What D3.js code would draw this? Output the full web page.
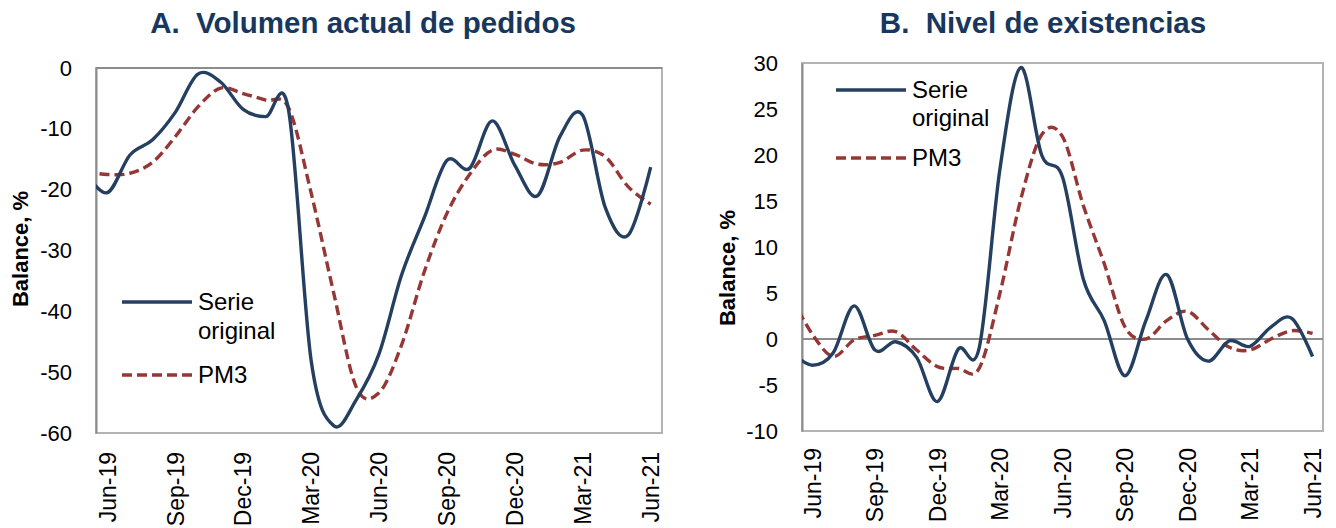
<!DOCTYPE html>
<html>
<head>
<meta charset="utf-8">
<script src="https://cdn.jsdelivr.net/npm/d3@7"></script>
<style>
  body { margin: 0; background: #fff; }
  svg { display: block; font-family: "Liberation Sans", Arial, sans-serif; }
</style>
</head>
<body>
<div id="chart"></div>
<script>
// monthly data, May-19 .. Jun-21 (May-19 sits just outside the plot, clipped)
const months = ['May-19', 'Jun-19', 'Jul-19', 'Aug-19', 'Sep-19', 'Oct-19', 'Nov-19', 'Dec-19',
    'Jan-20', 'Feb-20', 'Mar-20', 'Apr-20', 'May-20', 'Jun-20', 'Jul-20', 'Aug-20', 'Sep-20',
    'Oct-20', 'Nov-20', 'Dec-20', 'Jan-21', 'Feb-21', 'Mar-21', 'Apr-21', 'May-21', 'Jun-21'];
const tickMonths = ['Jun-19', 'Sep-19', 'Dec-19', 'Mar-20', 'Jun-20', 'Sep-20', 'Dec-20', 'Mar-21', 'Jun-21'];

const pedidosSerie = [-17.0, -20.5, -14.3, -11.8, -7.3, -1.0, -2.3, -6.8, -8.0, -6.8, -48.0, -58.8, -54.5,
    -47.0, -34.0, -24.6, -15.2, -16.5, -8.7, -16.0, -21.0, -11.2, -7.8, -23.0, -27.5, -16.3];
const pedidosPM3 = [-17.0, -17.5, -17.3, -15.5, -11.3, -6.4, -3.3, -4.2, -5.3, -6.5, -20.5, -37.0, -52.5,
    -53.4, -45.5, -33.5, -23.9, -17.5, -13.5, -14.2, -15.8, -15.5, -13.5, -14.6, -19.5, -22.4];

const existSerie = [-1.5, -2.85, -1.5, 3.6, -1.2, -0.3, -2.0, -6.8, -1.1, -1.0, 18.5, 29.5, 20.0,
    17.6, 6.5, 2.0, -4.0, 2.0, 7.0, 0.0, -2.4, -0.2, -0.8, 1.3, 2.25, -1.9];
const existPM3 = [4.5, 0.5, -1.9, -0.1, 0.4, 0.8, -1.2, -3.0, -3.2, -3.2, 5.0, 15.2, 22.2,
    22.0, 14.5, 8.2, 1.3, 0.0, 2.0, 3.0, 1.0, -0.9, -1.2, 0.0, 0.9, 0.6];

const ticksA = [0, -10, -20, -30, -40, -50, -60];
const ticksB = [30, 25, 20, 15, 10, 5, 0, -5, -10];

const navy = '#243f60';
const red = '#953735';

const svg = d3.select('#chart')
    .append('svg')
    .attr('width', 1336)
    .attr('height', 528);

svg.append('rect').attr('width', 1336).attr('height', 528).attr('fill', '#fff');

const drawPanel = (p) => {
    const g = svg.append('g');
    const x = d3.scaleLinear().domain([0.5, 25.5]).range([p.left, p.right]);
    const y = d3.scaleLinear().domain(p.yDomain).range([p.bottom, p.top]);

    // title
    g.append('text')
        .attr('x', p.titleX)
        .attr('y', 33)
        .attr('text-anchor', 'middle')
        .attr('font-size', '29.5px')
        .attr('font-weight', 'bold')
        .attr('fill', '#17375e')
        .attr('xml:space', 'preserve')
        .text(p.title);

    // plot area
    g.append('rect')
        .attr('x', p.left).attr('y', p.top)
        .attr('width', p.right - p.left).attr('height', p.bottom - p.top)
        .attr('fill', 'none')
        .attr('stroke', '#b4b4b4')
        .attr('stroke-width', 2);

    // y axis
    const yAxis = d3.axisLeft(y).tickValues(p.yTicks).tickSize(0).tickPadding(24).tickFormat(d3.format('d'));
    const ya = g.append('g').attr('transform', `translate(${p.left},0)`).call(yAxis);
    ya.select('.domain').attr('stroke', '#8c8c8c').attr('stroke-width', 2);
    ya.selectAll('text').attr('font-size', '22px').attr('fill', '#000')
        .text(d => d < 0 ? '-' + Math.abs(d) : d);

    // horizontal axis line where it crosses 0
    g.append('line')
        .attr('x1', p.left).attr('x2', p.right)
        .attr('y1', y(0)).attr('y2', y(0))
        .attr('stroke', '#8c8c8c')
        .attr('stroke-width', 2);

    // x labels (rotated)
    g.selectAll('.xl')
        .data(tickMonths)
        .enter()
        .append('text')
        .attr('class', 'xl')
        .attr('transform', d => `translate(${x(months.indexOf(d))},${p.bottom + p.xLabelGap}) rotate(-90)`)
        .attr('text-anchor', 'end')
        .attr('dy', '0.36em')
        .attr('font-size', '23px')
        .attr('fill', '#000')
        .text(d => d);

    // y title
    g.append('text')
        .attr('transform', `translate(${p.yTitleX},${p.yTitleY}) rotate(-90)`)
        .attr('text-anchor', 'middle')
        .attr('dy', '0.36em')
        .attr('font-size', '22px')
        .attr('font-weight', 'bold')
        .attr('fill', '#000')
        .text('Balance, %');

    // lines, clipped to the plot area
    g.append('clipPath').attr('id', p.id + '-clip')
        .append('rect')
        .attr('x', p.left).attr('y', p.top - 6)
        .attr('width', p.right - p.left).attr('height', p.bottom - p.top + 6);

    const line = d3.line()
        .x((d, i) => x(i))
        .y(d => y(d))
        .curve(d3.curveCardinal.tension(0));

    const lines = g.append('g').attr('clip-path', `url(#${p.id}-clip)`);
    lines.append('path')
        .attr('d', line(p.pm3))
        .attr('fill', 'none')
        .attr('stroke', red)
        .attr('stroke-width', 3.4)
        .attr('stroke-dasharray', '10,5');
    lines.append('path')
        .attr('d', line(p.serie))
        .attr('fill', 'none')
        .attr('stroke', navy)
        .attr('stroke-width', 3.4);

    // legend
    const lg = g.append('g').attr('transform', `translate(${p.legX},${p.legY})`);
    lg.append('line').attr('x1', 0).attr('x2', 70).attr('y1', 0).attr('y2', 0)
        .attr('stroke', navy).attr('stroke-width', 3.4);
    lg.append('text').attr('x', 76).attr('y', 8).attr('font-size', '24px').text('Serie');
    lg.append('text').attr('x', 76).attr('y', 8 + p.legLine).attr('font-size', '24px').text('original');
    lg.append('line').attr('x1', 0).attr('x2', 70).attr('y1', p.legPm3).attr('y2', p.legPm3)
        .attr('stroke', red).attr('stroke-width', 3.4).attr('stroke-dasharray', '10,5');
    lg.append('text').attr('x', 76).attr('y', p.legPm3 + 8).attr('font-size', '24px').text('PM3');
};

drawPanel({
    id: 'a', title: 'A.  Volumen actual de pedidos', titleX: 363,
    left: 96, right: 662, top: 68, bottom: 433,
    yDomain: [-60, 0], yTicks: ticksA,
    serie: pedidosSerie, pm3: pedidosPM3,
    xLabelGap: 19, yTitleX: 20, yTitleY: 249,
    legX: 122, legY: 302, legLine: 29, legPm3: 73
});

drawPanel({
    id: 'b', title: 'B.  Nivel de existencias', titleX: 1043,
    left: 802, right: 1323, top: 63, bottom: 431,
    yDomain: [-10, 30], yTicks: ticksB,
    serie: existSerie, pm3: existPM3,
    xLabelGap: 17, yTitleX: 727, yTitleY: 268,
    legX: 836, legY: 90, legLine: 28, legPm3: 68
});
</script>
</body>
</html>
